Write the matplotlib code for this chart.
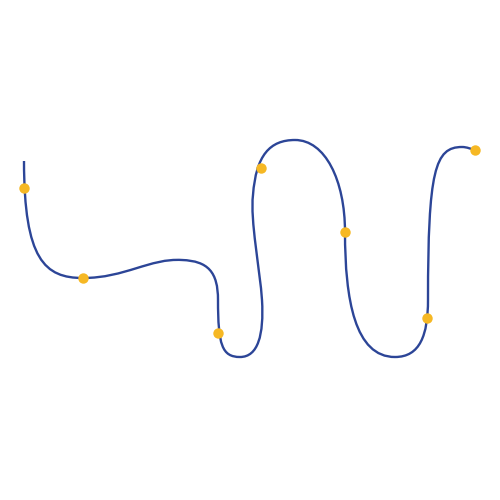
import matplotlib
matplotlib.use("Agg")
import matplotlib.pyplot as plt
from matplotlib.path import Path
from matplotlib.patches import PathPatch

# curve: start point followed by cubic bezier segments (ctrl1, ctrl2, end)
curve_start = (24, 161)
curve_segments = [
    ((24, 260), (45, 278), (83, 278)),
    ((125, 278), (150, 258), (182, 260)),
    ((208, 261), (218, 272), (218, 300)),
    ((218, 345), (222, 357), (240, 357)),
    ((258, 357), (264, 335), (262, 300)),
    ((260, 270), (250, 220), (253, 195)),
    ((256, 155), (270, 140), (295, 140)),
    ((325, 140), (345, 180), (345, 232)),
    ((345, 300), (355, 357), (395, 357)),
    ((420, 357), (428, 335), (428, 300)),
    ((428, 170), (435, 147), (462, 147)),
    ((467, 147), (471, 149), (475, 150)),
]

# markers
point_x = [24, 83, 218, 261, 345, 427, 475]
point_y = [188, 278, 333, 168, 232, 318, 150]

verts = [curve_start]
codes = [Path.MOVETO]
for c1, c2, end in curve_segments:
    verts += [c1, c2, end]
    codes += [Path.CURVE4] * 3

fig = plt.figure(figsize=(5, 5), dpi=100)
ax = fig.add_axes([0, 0, 1, 1])
ax.add_patch(PathPatch(Path(verts, codes), facecolor="none",
                       edgecolor="#2c4597", linewidth=1.7, zorder=2))
ax.plot(point_x, point_y, "o", color="#f6b824", markersize=7.5,
        markeredgewidth=0, zorder=3)

ax.set_xlim(0, 500)
ax.set_ylim(500, 0)
ax.axis("off")

fig.savefig("out.png", dpi=100)
